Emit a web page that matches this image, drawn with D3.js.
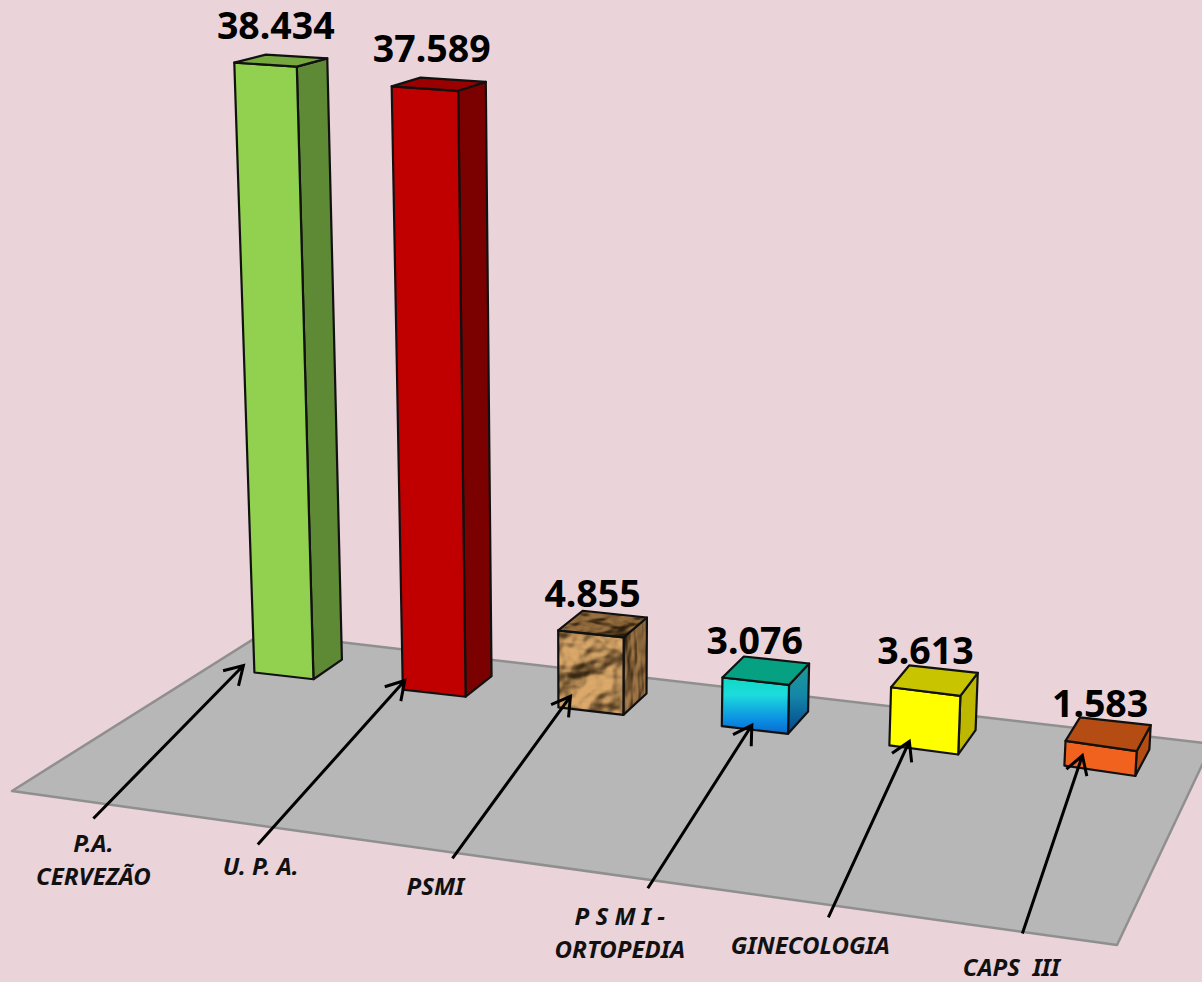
<!DOCTYPE html>
<html><head><meta charset="utf-8">
<script src="https://cdnjs.cloudflare.com/ajax/libs/d3/7.8.5/d3.min.js"></script>
<style>html,body{margin:0;padding:0;background:#ead3d9;overflow:hidden}svg{display:block}text{white-space:pre;font-family:"Noto Sans","Open Sans",sans-serif}</style>
</head><body><svg id="c" width="1202" height="982"></svg>
<script>
const categories = ["P.A. CERVEZÃO","U. P. A.","PSMI","P S M I - ORTOPEDIA","GINECOLOGIA","CAPS  III"];
const categoryLines = [["P.A.","CERVEZÃO"],["U. P. A."],["PSMI"],["P S M I -","ORTOPEDIA"],["GINECOLOGIA"],["CAPS  III"]];
const values = [38434,37589,4855,3076,3613,1583];
const frontFills = ["#92d050","#c00000","url(#texFront)","url(#gFront)","#ffff00","#f0621e"];
const sideFills  = ["#5f8a35","#7b0000","url(#texSide)","url(#gSide)","#bdb700","#b44c14"];
const topFills   = ["#77a83f","#9b0000","url(#texTop)","#06a082","#c9c400","#b44c14"];
// layout only: small corrections of the band position, width and front edge, in floor units
const bandShift = [0.001,0.002,0.003,0.004,0.001,-0.003];
const bandGrow  = [0.001,0.002,0.001,-0.001,-0.001,-0.002];
const frontDrop = [0,0,0,0,0.006,0.012];
// annotation layout, in pixels relative to each bar's front-left floor corner
const arrowTip  = [[-11,-7],[2,-9],[12,-11],[30,-1],[20,-4],[18,-10]];
const arrowTail = [[-161,146],[-145,155],[-106,151],[-74,162],[-61,172],[-42,168]];
const labelPos  = [[-161,180],[-142,185],[-123,188],[-102,199],[-79,209],[-53,210]];
const valueShift= [[-5,-16],[-7,-16],[-10,-4],[-11,-2],[-9,-1],[-8,0]];
const floorCorners = [[12,791],[1117,945],[1212,744],[263,633]];

const svg = d3.select("#c");
const fmt = d3.formatLocale({decimal:",",thousands:".",grouping:[3],currency:["",""]}).format(",d");

// floor homography (unit square -> picture)
const H = {a:931.4,b:283.4,c:12,d:7.1,e:-46.1,f:791,g:-0.1554,h:0.1676};
const wOf = (u,v)=>H.g*u+H.h*v+1;
const floorPt = (u,v)=>{const w=wOf(u,v);return [(H.a*u+H.b*v+H.c)/w,(H.d*u+H.e*v+H.f)/w];};
const VP = [590,10850], W_REF = 1.117, KU = 0.55, KV = 1;
const uScale = d3.scaleBand().domain(categories).range([0.054,0.954]).paddingInner(0.6);
const vFront = 0.785, vBack = 0.925;
const hScale = d3.scaleLinear().domain([120,d3.max(values)]).range([0,0.0601]).clamp(true);
function project(u,v,val){
  const p=floorPt(u,v), wf=wOf(u,vFront);
  const t=-hScale(val)*Math.pow(W_REF/wf,KU)*Math.pow(wf/wOf(u,v),KV);
  return [p[0]+t*(VP[0]-p[0]),p[1]+t*(VP[1]-p[1])];
}

// defs
const defs = svg.append("defs");
function grad(id,stops){
  const g=defs.append("linearGradient").attr("id",id).attr("x1",0).attr("y1",0).attr("x2",0).attr("y2",1);
  stops.forEach(s=>g.append("stop").attr("offset",s[0]).attr("stop-color",s[1]));
}
grad("gFront",[[0,"#10d8c4"],[0.3,"#1cdcdc"],[0.75,"#0b8fe2"],[1,"#0a6ad0"]]);
grad("gSide",[[0,"#1f9c96"],[0.45,"#1487a8"],[1,"#03448c"]]);
function texture(id,color,seed,freq,elev,scale){
  const f=defs.append("filter").attr("id",id+"F").attr("x",0).attr("y",0).attr("width",1).attr("height",1).attr("color-interpolation-filters","sRGB");
  f.append("feTurbulence").attr("type","fractalNoise").attr("baseFrequency",freq).attr("numOctaves",3).attr("seed",seed).attr("result","n");
  const l=f.append("feDiffuseLighting").attr("in","n").attr("surfaceScale",scale).attr("diffuseConstant",1.1).attr("lighting-color",color).attr("result","l");
  l.append("feDistantLight").attr("azimuth",235).attr("elevation",elev);
  const ct=f.append("feComponentTransfer").attr("in","l").attr("result","s");
  [["feFuncR",0.8,0.18],["feFuncG",0.8,0.12],["feFuncB",0.8,0.05]].forEach(k=>ct.append(k[0]).attr("type","linear").attr("slope",k[1]).attr("intercept",k[2]));
  f.append("feComposite").attr("in","s").attr("in2","SourceAlpha").attr("operator","in");
}
texture("texFront","#c79f6c",4,"0.03 0.035",50,11);
texture("texSide","#8f6f49",9,"0.07 0.02",45,10);
texture("texTop","#7d5f3c",12,"0.03 0.07",48,9);

// floor
svg.append("polygon").attr("points",floorCorners.join(" ")).attr("fill","#b7b7b7").attr("stroke","#8f8f8f").attr("stroke-width",2.5).attr("stroke-linejoin","round");

// bars
const line = d3.line();
const u0Of = i=>uScale(categories[i])+bandShift[i];
categories.forEach((cat,i)=>{
  const val=values[i], u0=u0Of(i), u1=u0+uScale.bandwidth()+bandGrow[i], vf=vFront-frontDrop[i];
  const FL0=project(u0,vFront,0),FR0=project(u1,vf,0),BR0=project(u1,vBack,0);
  const FL1=project(u0,vFront,val),FR1=project(u1,vf,val),BR1=project(u1,vBack,val),BL1=project(u0,vBack,val);
  const g=svg.append("g").attr("class","bar");
  const faces=[
    {pts:[BR0,BR1,FR1,FR0],fill:sideFills[i]},
    {pts:[FL0,FL1,FR1,FR0],fill:frontFills[i]},
    {pts:[FL1,BL1,BR1,FR1],fill:topFills[i]}];
  faces.forEach(f=>{
    const isTex=String(f.fill).startsWith("url(#tex");
    const p=g.append("path").attr("d",line(f.pts)+"Z");
    if(isTex){p.attr("fill","#000").attr("filter",f.fill.replace(")","F)"));}
    else p.attr("fill",f.fill);
    g.append("path").attr("d",line(f.pts)+"Z").attr("fill","none").attr("stroke","#111").attr("stroke-width",2.2).attr("stroke-linejoin","round");
  });
  // value label
  const cx=(FL1[0]+BR1[0])/2, topY=Math.min(BL1[1],BR1[1]);
  svg.append("text").attr("class","value").attr("x",cx+valueShift[i][0]).attr("y",topY+valueShift[i][1])
    .attr("text-anchor","middle").attr("font-size",37.5).attr("font-weight",700).attr("fill","#000").text(fmt(val));
});

// arrows and category labels
categories.forEach((cat,i)=>{
  const b=project(u0Of(i),vFront,0);
  const tip=[b[0]+arrowTip[i][0],b[1]+arrowTip[i][1]], tail=[b[0]+arrowTail[i][0],b[1]+arrowTail[i][1]];
  const ang=Math.atan2(tail[1]-tip[1],tail[0]-tip[0]), wing=21, sp=0.54;
  const w1=[tip[0]+wing*Math.cos(ang+sp),tip[1]+wing*Math.sin(ang+sp)], w2=[tip[0]+wing*Math.cos(ang-sp),tip[1]+wing*Math.sin(ang-sp)];
  svg.append("path").attr("d",line([tail,tip])+line([w1,tip,w2])).attr("fill","none").attr("stroke","#000").attr("stroke-width",3).attr("stroke-linejoin","miter");
  const t=svg.append("text").attr("class","cat").attr("text-anchor","middle").attr("font-size",24).attr("font-weight",700).attr("font-style","italic").attr("fill","#111");
  categoryLines[i].forEach((s,j)=>t.append("tspan").attr("x",b[0]+labelPos[i][0]).attr("y",b[1]+labelPos[i][1]+j*33).text(s));
});
</script></body></html>
